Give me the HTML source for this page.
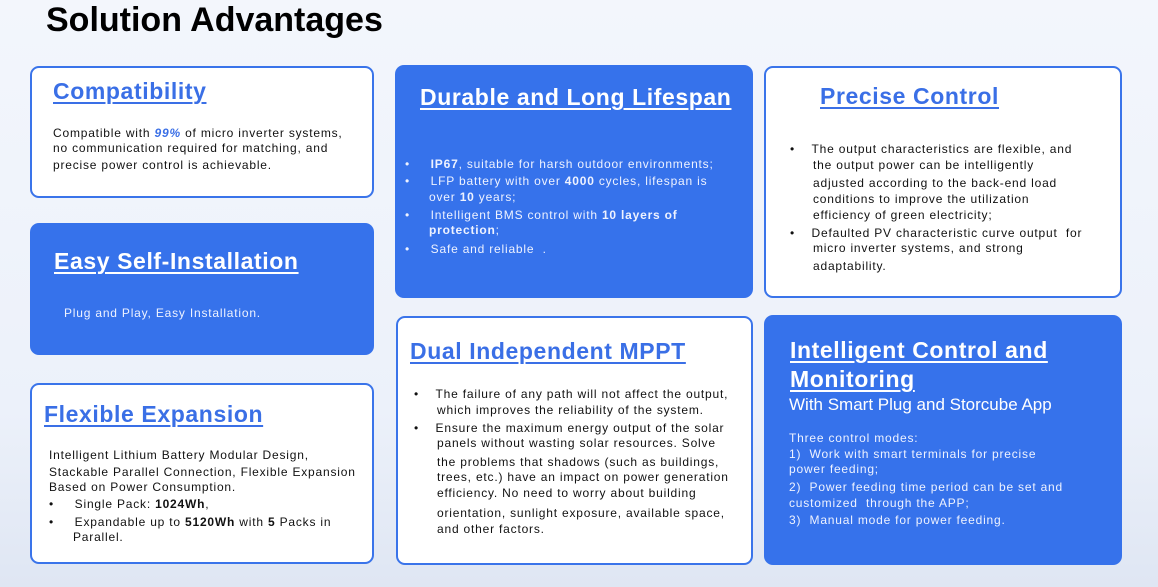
<!DOCTYPE html>
<html><head><meta charset="utf-8"><style>
*{margin:0;padding:0;box-sizing:border-box}
body{width:1158px;height:587px;overflow:hidden;background:linear-gradient(180deg,#f3f6fc 0%,#ecf1fa 70%,#dfe6f3 100%);font-family:"Liberation Sans",sans-serif;position:relative}
.b{position:absolute;border-radius:9px}
.w{background:#fff;border:2px solid #3a74ea}
.bl{background:#3672eb}
.t{position:absolute;white-space:nowrap}
.h{font-weight:bold;font-size:23px;text-decoration:underline;text-decoration-thickness:2px;text-underline-offset:3px;letter-spacing:0.6px}
.hb{color:#3a6fe6}.hw{color:#fff}
.p{font-size:12px;letter-spacing:0.8px;color:#111}
.pw{font-size:12px;letter-spacing:0.8px;color:#eef2ff}
</style></head><body>
<div class="t" style="left:46px;top:1px;font-size:34px;font-weight:bold;color:#000">Solution Advantages</div>

<div class="b w" style="left:30px;top:66px;width:344px;height:132px"></div>
<div class="t h hb" style="left:53px;top:78px">Compatibility</div>
<div class="t p" style="left:53px;top:126px">Compatible with <b style="color:#3a6fe6;font-style:italic">99%</b> of micro inverter systems,</div>
<div class="t p" style="left:53px;top:141px">no communication required for matching, and</div>
<div class="t p" style="left:53px;top:158px">precise power control is achievable.</div>

<div class="b bl" style="left:30px;top:223px;width:344px;height:132px"></div>
<div class="t h hw" style="left:54px;top:248px">Easy Self-Installation</div>
<div class="t pw" style="left:64px;top:306px">Plug and Play, Easy Installation.</div>

<div class="b w" style="left:30px;top:383px;width:344px;height:181px"></div>
<div class="t h hb" style="left:44px;top:401px">Flexible Expansion</div>
<div class="t p" style="left:49px;top:448px">Intelligent Lithium Battery Modular Design,</div>
<div class="t p" style="left:49px;top:465px">Stackable Parallel Connection, Flexible Expansion</div>
<div class="t p" style="left:49px;top:480px">Based on Power Consumption.</div>
<div class="t p" style="left:49px;top:497px">•&nbsp;&nbsp;&nbsp;&nbsp;&nbsp;Single Pack: <b>1024Wh</b>,</div>
<div class="t p" style="left:49px;top:515px">•&nbsp;&nbsp;&nbsp;&nbsp;&nbsp;Expandable up to <b>5120Wh</b> with <b>5</b> Packs in</div>
<div class="t p" style="left:73px;top:530px">Parallel.</div>

<div class="b bl" style="left:395px;top:65px;width:358px;height:233px"></div>
<div class="t h hw" style="left:420px;top:84px">Durable and Long Lifespan</div>
<div class="t pw" style="left:405px;top:157px">•&nbsp;&nbsp;&nbsp;&nbsp;&nbsp;<b>IP67</b>, suitable for harsh outdoor environments;</div>
<div class="t pw" style="left:405px;top:174px">•&nbsp;&nbsp;&nbsp;&nbsp;&nbsp;LFP battery with over <b>4000</b> cycles, lifespan is</div>
<div class="t pw" style="left:429px;top:190px">over <b>10</b> years;</div>
<div class="t pw" style="left:405px;top:208px">•&nbsp;&nbsp;&nbsp;&nbsp;&nbsp;Intelligent BMS control with <b>10 layers of</b></div>
<div class="t pw" style="left:429px;top:223px"><b>protection</b>;</div>
<div class="t pw" style="left:405px;top:242px">•&nbsp;&nbsp;&nbsp;&nbsp;&nbsp;Safe and reliable &nbsp;.</div>

<div class="b w" style="left:396px;top:316px;width:357px;height:249px"></div>
<div class="t h hb" style="left:410px;top:338px">Dual Independent MPPT</div>
<div class="t p" style="left:414px;top:387px">•&nbsp;&nbsp;&nbsp;&nbsp;The failure of any path will not affect the output,</div>
<div class="t p" style="left:437px;top:403px">which improves the reliability of the system.</div>
<div class="t p" style="left:414px;top:421px">•&nbsp;&nbsp;&nbsp;&nbsp;Ensure the maximum energy output of the solar</div>
<div class="t p" style="left:437px;top:436px">panels without wasting solar resources. Solve</div>
<div class="t p" style="left:437px;top:455px">the problems that shadows (such as buildings,</div>
<div class="t p" style="left:437px;top:470px">trees, etc.) have an impact on power generation</div>
<div class="t p" style="left:437px;top:486px">efficiency. No need to worry about building</div>
<div class="t p" style="left:437px;top:506px">orientation, sunlight exposure, available space,</div>
<div class="t p" style="left:437px;top:522px">and other factors.</div>

<div class="b w" style="left:764px;top:66px;width:358px;height:232px"></div>
<div class="t h hb" style="left:820px;top:83px">Precise Control</div>
<div class="t p" style="left:790px;top:142px">•&nbsp;&nbsp;&nbsp;&nbsp;The output characteristics are flexible, and</div>
<div class="t p" style="left:813px;top:158px">the output power can be intelligently</div>
<div class="t p" style="left:813px;top:176px">adjusted according to the back-end load</div>
<div class="t p" style="left:813px;top:192px">conditions to improve the utilization</div>
<div class="t p" style="left:813px;top:208px">efficiency of green electricity;</div>
<div class="t p" style="left:790px;top:226px">•&nbsp;&nbsp;&nbsp;&nbsp;Defaulted PV characteristic curve output &nbsp;for</div>
<div class="t p" style="left:813px;top:241px">micro inverter systems, and strong</div>
<div class="t p" style="left:813px;top:259px">adaptability.</div>

<div class="b bl" style="left:764px;top:315px;width:358px;height:250px"></div>
<div class="t h hw" style="left:790px;top:337px">Intelligent Control and</div>
<div class="t h hw" style="left:790px;top:366px">Monitoring</div>
<div class="t" style="left:789px;top:395px;font-size:17px;color:#fff">With Smart Plug and Storcube App</div>
<div class="t pw" style="left:789px;top:431px">Three control modes:</div>
<div class="t pw" style="left:789px;top:447px">1) &nbsp;Work with smart terminals for precise</div>
<div class="t pw" style="left:789px;top:462px">power feeding;</div>
<div class="t pw" style="left:789px;top:480px">2) &nbsp;Power feeding time period can be set and</div>
<div class="t pw" style="left:789px;top:496px">customized &nbsp;through the APP;</div>
<div class="t pw" style="left:789px;top:513px">3) &nbsp;Manual mode for power feeding.</div>
</body></html>
